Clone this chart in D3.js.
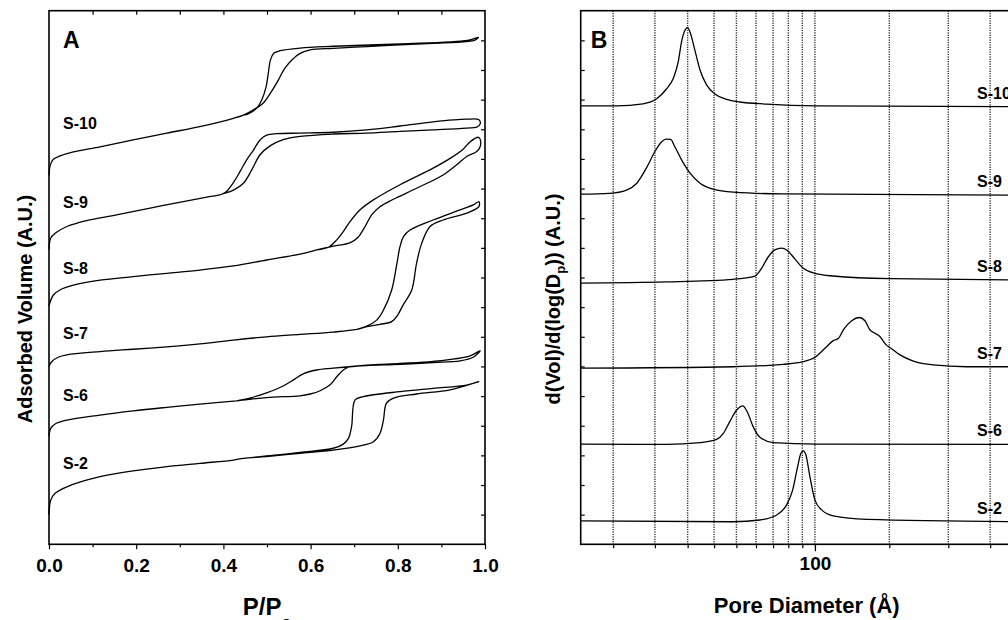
<!DOCTYPE html>
<html>
<head>
<meta charset="utf-8">
<script src="https://cdn.jsdelivr.net/npm/d3@7"></script>
<style>
body { margin: 0; background: #fff; overflow: hidden; }
text { font-family: "Liberation Sans", Arial, sans-serif; font-weight: bold; fill: #000; }
</style>
</head>
<body>
<div id="chart"></div>
<script>
// ---- data: sample names, isotherms (P/P0, A.U.), pore size distributions (Å, A.U.)
var samples = ["S-10", "S-9", "S-8", "S-7", "S-6", "S-2"];

// each isotherm is one path: adsorption up to P/P0 ~ 0.99, then desorption back
var isoS10 = [[0,12.45],[0.003,12.8],[0.01,12.99],[0.025,13.1],[0.056,13.24],[0.117,13.41],[0.193,13.64],[0.27,13.87],[0.346,14.09],[0.423,14.37],[0.446,14.48],
  [0.468,14.65],[0.491,14.88],[0.51,15.27],[0.526,15.66],[0.541,16.06],[0.557,16.34],[0.576,16.56],[0.599,16.68],[0.652,16.73],[0.729,16.79],[0.805,16.85],[0.881,16.9],[0.958,16.96],[0.977,17.01],[0.985,17.1],
  [0.96,17.0],[0.805,16.88],[0.652,16.8],[0.576,16.74],[0.53,16.65],[0.516,16.57],[0.508,16.34],[0.503,15.89],[0.498,15.44],[0.488,14.99],[0.476,14.71],[0.457,14.52],[0.446,14.48]];
var isoS9 = [[0,9.95],[0.004,10.33],[0.014,10.49],[0.041,10.72],[0.086,10.92],[0.155,11.11],[0.232,11.34],[0.308,11.56],[0.362,11.71],[0.392,11.79],[0.398,11.82],
  [0.423,11.95],[0.446,12.18],[0.465,12.63],[0.484,13.14],[0.507,13.44],[0.537,13.65],[0.576,13.76],[0.652,13.84],[0.729,13.87],[0.805,13.93],[0.881,13.98],[0.958,14.04],[0.981,14.07],[0.989,14.18],
  [0.986,14.32],[0.958,14.34],[0.881,14.25],[0.805,14.11],[0.729,13.98],[0.652,13.9],[0.576,13.87],[0.522,13.85],[0.499,13.8],[0.484,13.64],[0.469,13.3],[0.453,12.96],[0.438,12.57],[0.423,12.2],[0.407,11.9],[0.398,11.82]];
var isoS8 = [[0,8.05],[0.01,8.41],[0.025,8.58],[0.056,8.74],[0.117,8.91],[0.193,9.03],[0.27,9.14],[0.346,9.25],[0.423,9.39],[0.499,9.59],[0.576,9.79],[0.614,9.93],
  [0.652,10.06],[0.69,10.17],[0.709,10.36],[0.725,10.72],[0.74,11.11],[0.759,11.39],[0.79,11.64],[0.843,12.01],[0.904,12.46],[0.935,12.8],[0.958,13.08],[0.981,13.25],[0.989,13.42],[0.989,13.66],
  [0.985,13.73],[0.966,13.58],[0.95,13.33],[0.92,13.02],[0.881,12.69],[0.805,12.13],[0.744,11.62],[0.713,11.28],[0.69,10.88],[0.675,10.55],[0.66,10.27],[0.641,10.02],[0.614,9.93]];
var isoS7 = [[0,6.0],[0.006,6.16],[0.021,6.31],[0.041,6.39],[0.117,6.5],[0.193,6.58],[0.27,6.66],[0.346,6.76],[0.423,6.89],[0.499,7.0],[0.576,7.08],[0.652,7.16],[0.706,7.25],
  [0.729,7.34],[0.759,7.42],[0.786,7.51],[0.8,7.74],[0.812,8.07],[0.832,8.58],[0.843,9.48],[0.855,10.16],[0.874,10.72],[0.904,10.94],[0.958,11.17],[0.986,11.39],
  [0.986,11.56],[0.973,11.45],[0.943,11.28],[0.881,10.94],[0.828,10.6],[0.813,10.38],[0.805,10.04],[0.798,9.48],[0.786,8.58],[0.767,7.9],[0.752,7.57],[0.729,7.36],[0.706,7.25]];
var isoS6 = [[0,3.65],[0.004,3.91],[0.014,4.06],[0.041,4.19],[0.117,4.36],[0.193,4.5],[0.27,4.62],[0.346,4.73],[0.43,4.84],
  [0.499,4.95],[0.576,5.01],[0.599,5.07],[0.622,5.18],[0.644,5.37],[0.66,5.65],[0.675,5.88],[0.69,5.99],[0.729,6.03],[0.805,6.07],[0.881,6.13],[0.943,6.19],[0.973,6.31],[0.989,6.53],
  [0.966,6.36],[0.881,6.17],[0.805,6.1],[0.729,6.04],[0.652,5.94],[0.614,5.88],[0.583,5.75],[0.56,5.54],[0.537,5.34],[0.499,5.11],[0.465,4.95],[0.43,4.84]];
var isoS2 = [[0,1.0],[0.004,1.49],[0.014,1.72],[0.041,1.94],[0.117,2.28],[0.193,2.48],[0.27,2.62],[0.346,2.73],[0.423,2.84],[0.446,2.9],
  [0.499,2.96],[0.576,3.07],[0.652,3.18],[0.713,3.32],[0.744,3.46],[0.759,3.74],[0.767,4.19],[0.774,4.76],[0.79,4.93],[0.843,5.07],[0.92,5.21],[0.986,5.49],
  [0.958,5.37],[0.881,5.26],[0.805,5.15],[0.721,4.98],[0.702,4.87],[0.694,3.97],[0.687,3.58],[0.675,3.38],[0.652,3.24],[0.576,3.1],[0.499,2.98],[0.446,2.9]];

var psdS10 = [[20,14.79],[25.6,14.79],[30.7,14.86],[33.7,15.03],[36,15.35],[37.8,15.72],[39.1,16.28],[40,16.96],[40.9,17.33],[41.7,17.43],[42.5,17.24],[43.8,16.68],[45.4,16.0],[47.5,15.5],[50.3,15.19],[54.5,15.01],[59.7,14.92],[71.7,14.85],[101,14.79],[400,14.76]];
var psdS9 = [[20,11.81],[24.4,11.84],[27.4,11.95],[29.4,12.18],[31.4,12.69],[33.3,13.25],[34.9,13.58],[36,13.67],[37.1,13.66],[38.2,13.41],[40,12.97],[42.4,12.52],[45.4,12.18],[49.7,11.98],[57.1,11.88],[80.4,11.82],[400,11.78]];
var psdS8 = [[20,8.81],[36,8.85],[57.1,8.94],[66.2,9.05],[69.3,9.31],[72.6,9.7],[75.9,9.93],[79.5,9.99],[82.7,9.91],[87.2,9.62],[92.3,9.31],[100,9.14],[113.4,9.05],[167,8.96],[400,8.92]];
var psdS7 = [[20,5.94],[57.1,5.99],[80.4,6.07],[92.3,6.16],[100,6.31],[107.1,6.61],[113.4,6.87],[117.4,6.94],[121.5,7.23],[128.7,7.54],[135.6,7.65],[141,7.54],[146,7.23],[151.2,7.12],[156.5,7.0],[162.1,6.76],[169.7,6.59],[179.4,6.39],[196.7,6.18],[225.5,6.05],[283.6,5.99],[400,5.99]];
var psdS6 = [[20,3.38],[36,3.37],[45.4,3.43],[50.9,3.54],[53.3,3.74],[55.7,4.14],[58.4,4.53],[60.9,4.67],[62.8,4.47],[65.4,3.97],[68.5,3.61],[75.1,3.43],[101,3.38],[400,3.37]];
var psdS2 = [[20,0.79],[57.1,0.76],[68.5,0.82],[76.9,0.99],[82.3,1.33],[85.8,1.83],[88.8,2.62],[90.8,3.07],[92.3,3.15],[94,3.01],[96.6,2.28],[100,1.49],[104.7,1.16],[113.4,0.96],[142.7,0.84],[400,0.76]];

var isotherms = [isoS10, isoS9, isoS8, isoS7, isoS6, isoS2];
var psds = [psdS10, psdS9, psdS8, psdS7, psdS6, psdS2];

var xTicksA = [0, 0.2, 0.4, 0.6, 0.8, 1.0];
var xMinorA = [0.1, 0.3, 0.5, 0.7, 0.9];
var gridB = [25, 33.3, 41.7, 50, 58.3, 66.7, 75, 83.3, 91.7, 100, 166.7, 250, 333.3];
var xLabelB = [100];

// ---- layout
var svgWidth = 1008, svgHeight = 620;
var plotTop = 10.7, plotBottom = 544.3, plotW = 436;
var leftA = 49, leftB = 580.7;
var labelYA = [129, 208, 274, 339, 401, 469];
var fontFam = "'Liberation Sans', Arial, sans-serif";

var svg = d3.select("#chart")
  .append("svg")
  .attr("width", svgWidth)
  .attr("height", svgHeight)
  .style("overflow", "hidden");

var xA = d3.scaleLinear().domain([0, 1]).range([leftA, leftA + plotW]);
var yA = d3.scaleLinear().domain([0, 18]).range([plotBottom, plotTop]);
var xB = d3.scaleLog().domain([20, 400]).range([leftB, leftB + plotW]);
var yB = d3.scaleLinear().domain([0, 18]).range([plotBottom, plotTop]);

function styleAxis(g) {
  g.select(".domain").remove();
  g.selectAll(".tick line").attr("stroke", "#000").attr("stroke-width", 1.2);
  g.selectAll(".tick text").style("font-size", "19px").style("font-family", fontFam).style("font-weight", "bold").attr("fill", "#000");
}

// ---- panel A
svg.append("g")
  .attr("transform", `translate(0, ${plotBottom})`)
  .call(d3.axisBottom(xA).tickValues(xTicksA).tickFormat(d3.format(".1f")).tickSize(5).tickPadding(9))
  .call(styleAxis);
svg.append("g")
  .attr("transform", `translate(0, ${plotBottom})`)
  .call(d3.axisBottom(xA).tickValues(xMinorA).tickFormat("").tickSize(3))
  .call(styleAxis);
svg.append("g")
  .attr("transform", `translate(0, ${plotTop})`)
  .call(d3.axisTop(xA).tickValues(d3.range(1, 10).map(d => d / 10)).tickFormat("").tickSize(-4))
  .call(styleAxis);
svg.append("g")
  .attr("transform", `translate(${leftA + plotW}, 0)`)
  .call(d3.axisRight(yA).tickValues(d3.range(1, 18)).tickFormat("").tickSize(-4))
  .call(styleAxis);

var lineA = d3.line()
  .x(d => xA(d[0]))
  .y(d => yA(d[1]))
  .curve(d3.curveCatmullRom.alpha(0.5));

svg.append("g").selectAll("path")
  .data(isotherms)
  .enter()
  .append("path")
  .attr("d", lineA)
  .attr("fill", "none")
  .attr("stroke", "#000")
  .attr("stroke-width", 1.3);

svg.append("rect")
  .attr("x", leftA).attr("y", plotTop)
  .attr("width", plotW).attr("height", plotBottom - plotTop)
  .attr("fill", "none").attr("stroke", "#000").attr("stroke-width", 1.6);

svg.append("g").selectAll("text")
  .data(samples)
  .enter()
  .append("text")
  .attr("x", leftA + 14)
  .attr("y", (d, i) => labelYA[i])
  .style("font-size", "16px")
  .text(d => d);

svg.append("text").attr("x", leftA + 14).attr("y", 48.3).style("font-size", "23px").text("A");

svg.append("text")
  .attr("transform", `translate(31.5, 309) rotate(-90)`)
  .attr("text-anchor", "middle")
  .style("font-size", "20px")
  .text("Adsorbed Volume (A.U.)");

var pp = svg.append("text")
  .attr("x", leftA + plotW / 2)
  .attr("y", 615)
  .attr("text-anchor", "middle")
  .style("font-size", "24px");
pp.append("tspan").text("P/P");
pp.append("tspan").attr("dy", 13).style("font-size", "16px").text("o");

// ---- panel B
svg.append("g").selectAll("line")
  .data(gridB)
  .enter()
  .append("line")
  .attr("x1", d => xB(d)).attr("x2", d => xB(d))
  .attr("y1", plotTop).attr("y2", plotBottom)
  .attr("stroke", "#333")
  .attr("stroke-width", 1.4)
  .attr("stroke-dasharray", "1.2,1.2");

svg.append("g")
  .attr("transform", `translate(0, ${plotBottom})`)
  .call(d3.axisBottom(xB).tickValues(gridB).tickFormat("").tickSize(4))
  .call(styleAxis);
svg.append("g")
  .attr("transform", `translate(0, ${plotBottom})`)
  .call(d3.axisBottom(xB).tickValues(xLabelB).tickFormat(d3.format("d")).tickSize(7).tickPadding(5))
  .call(styleAxis);
svg.append("g")
  .attr("transform", `translate(${leftB}, 0)`)
  .call(d3.axisLeft(yB).tickValues(d3.range(1, 18)).tickFormat("").tickSize(-4))
  .call(styleAxis);

var lineB = d3.line()
  .x(d => xB(d[0]))
  .y(d => yB(d[1]))
  .curve(d3.curveMonotoneX);

svg.append("g").selectAll("path")
  .data(psds)
  .enter()
  .append("path")
  .attr("d", lineB)
  .attr("fill", "none")
  .attr("stroke", "#000")
  .attr("stroke-width", 1.3);

svg.append("rect")
  .attr("x", leftB).attr("y", plotTop)
  .attr("width", plotW).attr("height", plotBottom - plotTop)
  .attr("fill", "none").attr("stroke", "#000").attr("stroke-width", 1.6);

svg.append("g").selectAll("text")
  .data(samples)
  .enter()
  .append("text")
  .attr("x", 977)
  .attr("y", (d, i) => yB(psds[i][psds[i].length - 1][1]) - 8)
  .style("font-size", "16px")
  .text(d => d);

svg.append("text").attr("x", leftB + 10).attr("y", 48.3).style("font-size", "23px").text("B");

var yl = svg.append("text")
  .attr("transform", `translate(560, 299) rotate(-90)`)
  .attr("text-anchor", "middle")
  .style("font-size", "20px");
yl.append("tspan").text("d(Vol)/d(log(D");
yl.append("tspan").attr("dy", 5).style("font-size", "13px").text("p");
yl.append("tspan").attr("dy", -5).text(")) (A.U.)");

svg.append("text")
  .attr("x", 806.7)
  .attr("y", 613)
  .attr("text-anchor", "middle")
  .style("font-size", "22px")
  .text("Pore Diameter (Å)");
</script>
</body>
</html>
